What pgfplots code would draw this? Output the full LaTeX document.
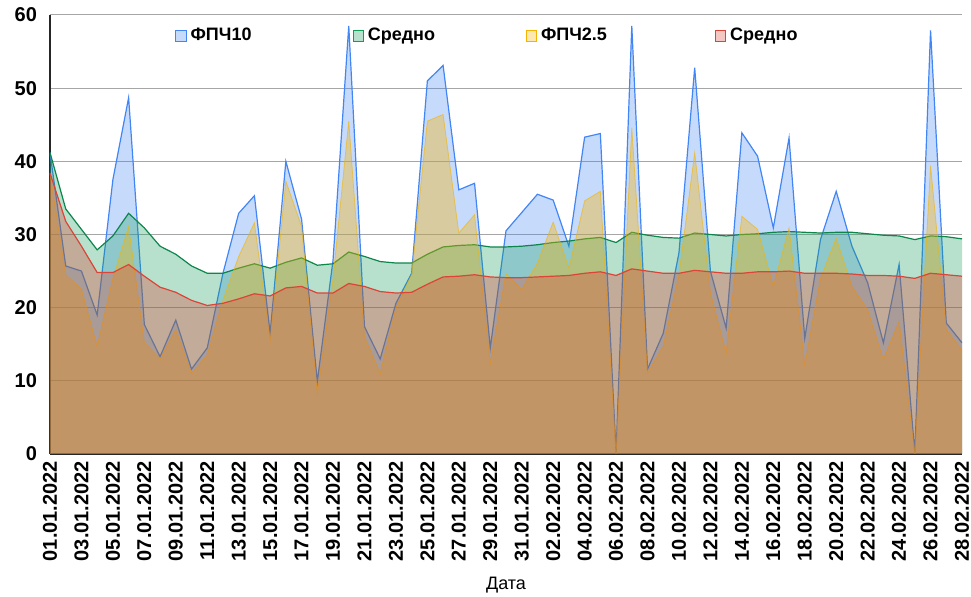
\documentclass[border=0pt]{standalone}
\usepackage{fontspec}
\setmainfont{Liberation Sans}
\usepackage{pgfplots}
\usepackage{pgfplotstable}
\pgfplotsset{compat=1.18}
\definecolor{cblue}{HTML}{4285F4}
\definecolor{cgreen}{HTML}{0F9D58}
\definecolor{cyellow}{HTML}{F4B400}
\definecolor{cred}{HTML}{DB4437}
\pgfplotstableread{
i pmten avgten pmtwo avgtwo
0 41.2 41.2 38.4 38.4
1 25.7 33.5 24.5 31.8
2 25.0 30.7 22.5 28.4
3 19.0 27.9 14.7 24.8
4 37.5 29.8 24.0 24.8
5 48.7 32.9 31.1 25.9
6 17.7 30.9 15.2 24.3
7 13.3 28.4 13.0 22.8
8 18.3 27.3 17.0 22.1
9 11.6 25.7 11.0 21.0
10 14.5 24.7 13.5 20.3
11 24.7 24.7 21.0 20.6
12 32.9 25.4 27.0 21.2
13 35.3 26.0 31.6 21.9
14 16.5 25.4 15.5 21.6
15 40.0 26.2 37.3 22.7
16 32.1 26.8 31.1 22.9
17 9.9 25.8 8.3 22.0
18 26.5 26.0 24.0 22.0
19 58.5 27.6 45.5 23.3
20 17.4 27.0 16.0 22.9
21 13.0 26.3 11.0 22.2
22 20.6 26.1 20.0 22.0
23 24.7 26.1 24.5 22.1
24 51.0 27.3 45.5 23.2
25 53.1 28.3 46.4 24.2
26 36.1 28.5 30.2 24.3
27 37.0 28.6 32.7 24.5
28 14.5 28.3 12.4 24.2
29 30.5 28.3 24.7 24.1
30 33.0 28.4 22.5 24.1
31 35.5 28.6 26.1 24.2
32 34.7 28.9 31.7 24.3
33 28.4 29.1 25.4 24.4
34 43.3 29.4 34.6 24.7
35 43.8 29.6 35.9 24.9
36 0.1 28.9 0.0 24.4
37 58.5 30.3 44.6 25.3
38 11.6 29.9 11.1 25.0
39 16.5 29.6 14.7 24.7
40 27.5 29.5 24.5 24.7
41 52.8 30.2 41.2 25.1
42 25.0 30.0 22.0 24.9
43 17.2 29.8 13.8 24.7
44 43.9 30.0 32.5 24.7
45 40.7 30.1 30.7 24.9
46 30.9 30.3 22.9 24.9
47 43.2 30.4 30.9 25.0
48 15.8 30.3 12.2 24.7
49 29.3 30.2 24.0 24.7
50 35.9 30.3 29.5 24.7
51 28.4 30.3 22.9 24.6
52 23.4 30.1 19.7 24.4
53 15.2 29.9 12.9 24.4
54 25.9 29.8 18.1 24.3
55 0.1 29.3 0.0 24.0
56 57.9 29.8 39.4 24.7
57 17.9 29.7 17.0 24.5
58 15.2 29.4 14.2 24.3
}\data
\begin{document}
\begin{tikzpicture}
\begin{axis}[
  scale only axis, width=456pt, height=219.5pt,
  xmin=0, xmax=58, ymin=0, ymax=60,
  xtick={0,2,...,58},
  xticklabels={01.01.2022,03.01.2022,05.01.2022,07.01.2022,09.01.2022,11.01.2022,13.01.2022,15.01.2022,17.01.2022,19.01.2022,21.01.2022,23.01.2022,25.01.2022,27.01.2022,29.01.2022,31.01.2022,02.02.2022,04.02.2022,06.02.2022,08.02.2022,10.02.2022,12.02.2022,14.02.2022,16.02.2022,18.02.2022,20.02.2022,22.02.2022,24.02.2022,26.02.2022,28.02.2022},
  ytick={0,10,...,60},
  /pgf/number format/assume math mode=true,
  x tick label style={rotate=90, anchor=east, font=\bfseries\fontsize{10}{12}\selectfont},
  y tick label style={font=\bfseries\fontsize{10}{12}\selectfont, xshift=-3pt},
  major tick length=0pt,
  ymajorgrids, grid style={black!35, line width=0.5pt},
  axis x line*=bottom, axis y line*=left,
  axis line style={black!85, line width=0.8pt, -},
  xlabel={Дата},
  xlabel style={at={(axis description cs:0.5,0)}, anchor=center, yshift=-65.5pt, font=\fontsize{9}{11}\selectfont},
]
% PM10
\addplot[draw=none, fill=cblue, fill opacity=0.3] table[x=i, y=pmten] {\data} \closedcycle;
\addplot[cblue, line width=0.6pt] table[x=i, y=pmten] {\data};
% average PM10
\addplot[draw=none, fill=cgreen, fill opacity=0.3] table[x=i, y=avgten] {\data} \closedcycle;
\addplot[cgreen!85!black, line width=0.6pt] table[x=i, y=avgten] {\data};
% PM2.5
\addplot[draw=none, fill=cyellow, fill opacity=0.37] table[x=i, y=pmtwo] {\data} \closedcycle;
\addplot[cyellow, line width=0.4pt, draw opacity=0.6] table[x=i, y=pmtwo] {\data};
% average PM2.5
\addplot[draw=none, fill=cred, fill opacity=0.34] table[x=i, y=avgtwo] {\data} \closedcycle;
\addplot[cred, line width=0.6pt] table[x=i, y=avgtwo] {\data};
\end{axis}
\begin{axis}[
  scale only axis, width=456pt, height=219.5pt,
  xmin=0, xmax=58, ymin=0, ymax=60, hide axis,
  legend columns=4,
  legend style={draw=none, fill=none, at={(0.1305,0.989)}, anchor=north west,
    font=\bfseries\fontsize{9}{11}\selectfont,
    /tikz/every even column/.append style={column sep=0pt}},
  legend image code/.code={\draw[#1, line width=0.4pt] (0pt,-2.6pt) rectangle (5.2pt,2.6pt);},
]
\addlegendimage{draw=cblue, fill=cblue, fill opacity=0.3}
\addlegendentry{\makebox[79pt][l]{ФПЧ10}}
\addlegendimage{draw=cgreen, fill=cgreen, fill opacity=0.3}
\addlegendentry{\makebox[77pt][l]{Средно}}
\addlegendimage{draw=cyellow, fill=cyellow, fill opacity=0.3}
\addlegendentry{\makebox[85pt][l]{ФПЧ2.5}}
\addlegendimage{draw=cred, fill=cred, fill opacity=0.3}
\addlegendentry{Средно}
\end{axis}
\pgfresetboundingbox
\path[use as bounding box] ([shift={(-25pt,-71.5pt)}]current axis.south west) rectangle ([shift={(4.5pt,7.5pt)}]current axis.north east);
\end{tikzpicture}
\end{document}
